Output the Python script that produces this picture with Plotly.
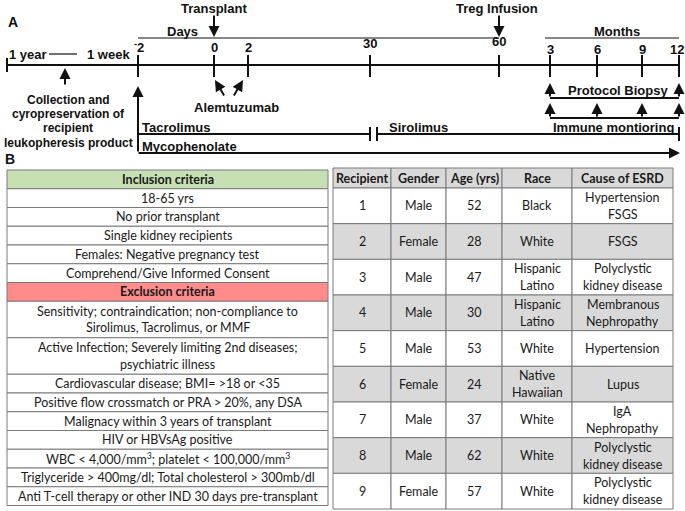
import plotly.graph_objects as go

# ---------------- DATA ----------------
# Panel A: timeline
day_ticks = ["<sup>-</sup>2", "0", "2", "30", "60"]
month_ticks = ["3", "6", "9", "12"]
pre_labels = ["1 year", "1 week"]
collection_text = ["Collection and", "cyropreservation of", "recipient", "leukopheresis product"]
events = ["Transplant", "Treg Infusion"]
drugs = ["Tacrolimus", "Sirolimus", "Mycophenolate"]
biopsy_months = ["3", "12"]
monitor_months = ["3", "6", "9", "12"]

# Panel B: inclusion / exclusion criteria
inclusion_header = "Inclusion criteria"
inclusion = [
    "18-65 yrs",
    "No prior transplant",
    "Single kidney recipients",
    "Females: Negative pregnancy test",
    "Comprehend/Give Informed Consent",
]
exclusion_header = "Exclusion criteria"
exclusion = [
    "Sensitivity; contraindication; non-compliance to<br>Sirolimus, Tacrolimus, or MMF",
    "Active Infection; Severely limiting 2nd diseases;<br>psychiatric illness",
    "Cardiovascular disease; BMI= >18 or <35",
    "Positive flow crossmatch or PRA > 20%, any DSA",
    "Malignacy within 3 years of transplant",
    "HIV or HBVsAg positive",
    "WBC < 4,000/mm<sup>3</sup>; platelet < 100,000/mm<sup>3</sup>",
    "Triglyceride > 400mg/dl; Total cholesterol > 300mb/dl",
    "Anti T-cell therapy or other IND 30 days pre-transplant",
]

# Panel B: recipients table
col_headers = ["Recipient", "Gender", "Age (yrs)", "Race", "Cause of ESRD"]
recipient = ["1", "2", "3", "4", "5", "6", "7", "8", "9"]
gender = ["Male", "Female", "Male", "Male", "Male", "Female", "Male", "Male", "Female"]
age = [52, 28, 47, 30, 53, 24, 37, 62, 57]
race = ["Black", "White", "Hispanic<br>Latino", "Hispanic<br>Latino", "White",
        "Native<br>Hawaiian", "White", "White", "White"]
cause = ["Hypertension<br>FSGS", "FSGS", "Polyclystic<br>kidney disease",
         "Membranous<br>Nephropathy", "Hypertension", "Lupus", "IgA<br>Nephropathy",
         "Polyclystic<br>kidney disease", "Polyclystic<br>kidney disease"]

# ---------------- LAYOUT (schematic positions, canvas px units) ----------------
W, H = 685, 511
day_pos = [138, 214, 248, 370, 499]
day_lbl_y = [47, 47, 47, 43, 41]
month_pos = [550, 597, 642, 679]
month_lbl_y = 49
line_y = 65

ARIAL = "Liberation Sans, Arial, sans-serif"
CAL = "Lato, Carlito, Calibri, sans-serif"
INK = "#111111"

fig = go.Figure()
shapes = []
ann = []


def line(x0, y0, x1, y1, w=2, c="#111111"):
    shapes.append(dict(type="line", xref="x", yref="y", x0=x0, y0=y0, x1=x1, y1=y1,
                       line=dict(color=c, width=w)))


def text(x, y, t, size=13, bold=True, anchor="center", font=ARIAL, color=INK):
    ann.append(dict(x=x, y=y, xref="x", yref="y", text=("<b>%s</b>" % t) if bold else t,
                    showarrow=False, xanchor=anchor, yanchor="middle", borderpad=0,
                    font=dict(family=font, size=size, color=color)))


def mtext(x, yc, t, spacing, **kw):
    parts = t.split("<br>")
    n = len(parts)
    for k, p in enumerate(parts):
        text(x, yc + (k - (n - 1) / 2) * spacing, p, **kw)


def arrow(x0, y0, x1, y1, w=2):
    ann.append(dict(x=x1, y=y1, ax=x0, ay=y0, xref="x", yref="y", axref="x", ayref="y",
                    text="", showarrow=True, arrowhead=2, arrowsize=1.1, arrowwidth=w,
                    arrowcolor=INK, standoff=0, startstandoff=0))


# ---- Panel A ----
text(7, 22, "A", size=14, anchor="left")
line(7, line_y, month_pos[-1], line_y)
line(7, line_y - 7, 7, line_y + 7)
text(8, 54, pre_labels[0], anchor="left")
line(49, 54, 77, 54, w=1.2)
text(131, 54, pre_labels[1], anchor="right")

for p, lab, ly in zip(day_pos, day_ticks, day_lbl_y):
    line(p, 55, p, 77)
    text(p + (1 if lab.startswith("<sup>") else 0), ly, lab)
for p, lab in zip(month_pos, month_ticks):
    line(p, 55, p, 77)
    text(p - (2 if lab == "12" else 0), month_lbl_y, lab)

# Days / Months brackets
line(day_pos[0], 38, day_pos[-1], 38, w=1.2)
text(182, 31, "Days")
line(545, 38, month_pos[-1], 38, w=1.2)
text(617, 31, "Months")

# Event arrows
text(day_pos[1], 8, events[0])
arrow(day_pos[1], 14, day_pos[1], 37)
text(day_pos[4] - 2, 8, events[1])
arrow(day_pos[4], 14, day_pos[4], 37)

# Collection
arrow(65, 86, 65, 68)
for i, t in enumerate(collection_text):
    text(68, 100 + i * 14.2, t, size=12)

# Alemtuzumab
arrow(225, 97, 215, 80)
arrow(233, 97, 243, 80)
text(236, 107, "Alemtuzumab")

# Protocol biopsy
pos_by_month = dict(zip(month_ticks, month_pos))
line(pos_by_month[biopsy_months[0]], 98, pos_by_month[biopsy_months[-1]], 98)
for m in biopsy_months:
    arrow(pos_by_month[m], 98, pos_by_month[m], 83)
text(618, 90, "Protocol Biopsy")

# Immune monitoring
line(pos_by_month[monitor_months[0]], 118, pos_by_month[monitor_months[-1]], 118)
for m in monitor_months:
    arrow(pos_by_month[m], 118, pos_by_month[m], 103)
text(613, 127, "Immune montioring")

# Drugs
arrow(day_pos[0], 153, day_pos[0], 86)
line(day_pos[0], 134, day_pos[3], 134)
line(day_pos[3], 127, day_pos[3], 141)
line(377, 127, 377, 141)
line(377, 134, month_pos[-1], 134)
line(month_pos[-1], 127, month_pos[-1], 141)
text(141, 127, drugs[0], anchor="left")
text(388, 127, drugs[1], anchor="left")
arrow(day_pos[0] - 1, 153, month_pos[-1] + 1, 153)
text(141, 146, drugs[2], anchor="left")

# ---- Panel B ----
text(4, 159, "B", size=14, anchor="left")
GRID = "#7a7a7a"
GREEN = "#c6e0b4"
RED = "#ff8b8b"
GREY = "#d9d9d9"
TSIZE = 12.5


def cell(x0, y0, x1, y1, fill):
    shapes.append(dict(type="rect", xref="x", yref="y", x0=x0, y0=y0, x1=x1, y1=y1,
                       fillcolor=fill, line=dict(color=GRID, width=1), layer="below"))


# left table
lx0, lx1 = 7, 328
rows = [(inclusion_header, GREEN, True)] + [(t, "white", False) for t in inclusion] \
    + [(exclusion_header, RED, True)] + [(t, "white", False) for t in exclusion]
y = 170
for t, fill, b in rows:
    nlines = t.count("<br>") + 1
    h = 18.75 if nlines == 1 else 36.5
    cell(lx0, y, lx1, y + h, fill)
    mtext((lx0 + lx1) / 2, y + h / 2, t, 16.5, size=TSIZE, bold=b, font=CAL, color="#1a1a1a")
    y += h

# right table
col_edges = [333, 391, 446, 502, 572, 673]
hy0, hy1 = 168, 188
row_h = (509 - hy1) / len(recipient)
for j, hd in enumerate(col_headers):
    cell(col_edges[j], hy0, col_edges[j + 1], hy1, GREY)
    text((col_edges[j] + col_edges[j + 1]) / 2, (hy0 + hy1) / 2, hd, size=TSIZE, bold=True,
         font=CAL, color="#1a1a1a")
for i in range(len(recipient)):
    vals = [recipient[i], gender[i], str(age[i]), race[i], cause[i]]
    fill = GREY if i % 2 == 1 else "white"
    y0 = hy1 + i * row_h
    for j, v in enumerate(vals):
        cell(col_edges[j], y0, col_edges[j + 1], y0 + row_h, fill)
        mtext((col_edges[j] + col_edges[j + 1]) / 2, y0 + row_h / 2, v, 17, size=TSIZE,
              bold=False, font=CAL, color="#1a1a1a")

fig.update_layout(
    width=W, height=H, margin=dict(l=0, r=0, t=0, b=0, pad=0, autoexpand=False),
    paper_bgcolor="white", plot_bgcolor="white",
    xaxis=dict(range=[0, W], visible=False, fixedrange=True),
    yaxis=dict(range=[H, 0], visible=False, fixedrange=True),
    shapes=shapes, annotations=ann, showlegend=False,
)
fig.write_html("out.html", config={"displayModeBar": False},
               post_script="document.body.style.margin='0px';document.body.style.overflow='hidden';")
